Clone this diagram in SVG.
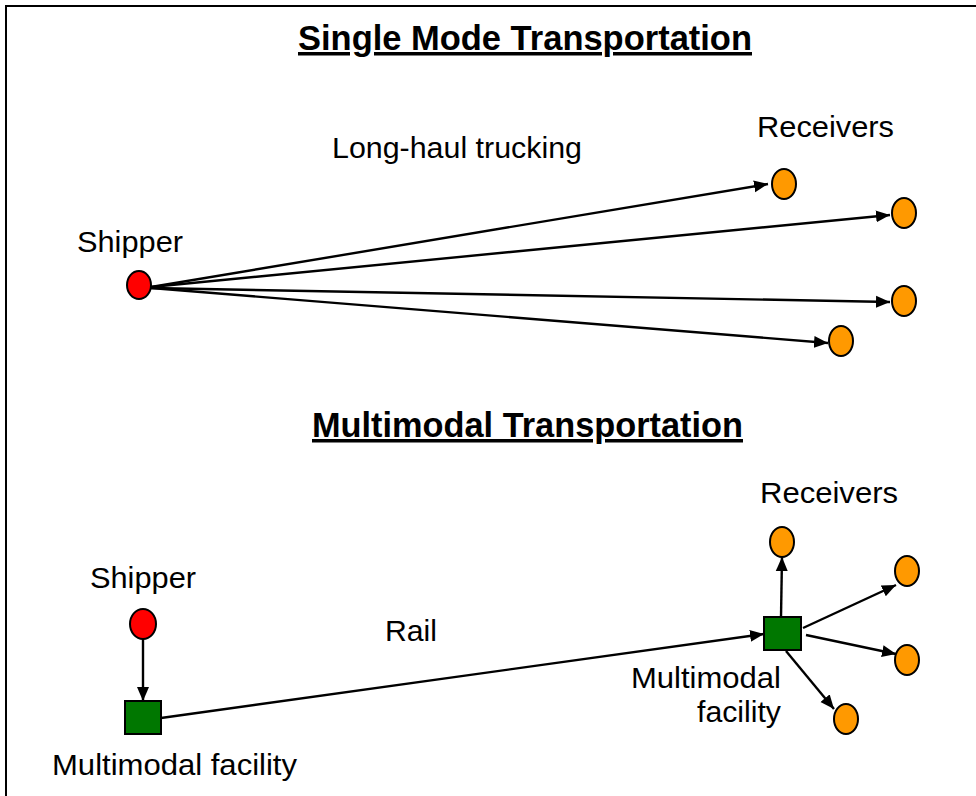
<svg xmlns="http://www.w3.org/2000/svg" width="976" height="796" viewBox="0 0 976 796">
<style>
.t{font-family:"Liberation Sans",Arial,sans-serif;font-size:30px;fill:#000}
.h{font-family:"Liberation Sans",Arial,sans-serif;font-size:35px;font-weight:bold;fill:#000;text-decoration:underline}
.ship{fill:#ff0000;stroke:#000;stroke-width:2}
.rec{fill:#ff9900;stroke:#000;stroke-width:2}
.fac{fill:#007700;stroke:#000;stroke-width:2}
.c{stroke:#000;stroke-width:2.4;fill:none;marker-end:url(#ah)}
</style>
<defs>
<marker id="ah" markerUnits="userSpaceOnUse" markerWidth="16" markerHeight="13" refX="14" refY="6" orient="auto" viewBox="0 0 16 12">
<path d="M0,0 L14,6 L0,12 z" fill="#000"/>
</marker>
</defs>
<rect width="976" height="796" fill="#fff"/>
<g id="frame" stroke="#000" stroke-width="2">
<line x1="6" y1="5" x2="6" y2="796"/>
<line x1="5" y1="6" x2="976" y2="6"/>
</g>
<g id="titles">
<text class="h" x="298" y="50" textLength="454" lengthAdjust="spacingAndGlyphs">Single Mode Transportation</text>
<text class="h" x="312" y="437" textLength="431" lengthAdjust="spacingAndGlyphs">Multimodal Transportation</text>
<text class="t" x="332" y="158" textLength="250" lengthAdjust="spacingAndGlyphs">Long-haul trucking</text>
<text class="t" x="385" y="641" textLength="52" lengthAdjust="spacingAndGlyphs">Rail</text>
</g>
<g id="connectors">
<line class="c" x1="151" y1="287" x2="768" y2="184"/>
<line class="c" x1="151" y1="287" x2="890" y2="215"/>
<line class="c" x1="151" y1="288" x2="890" y2="302"/>
<line class="c" x1="151" y1="288" x2="828" y2="343"/>
<line class="c" x1="143" y1="639" x2="143" y2="701"/>
<line class="c" x1="161" y1="718" x2="764" y2="634"/>
<line class="c" x1="781" y1="617" x2="782" y2="557"/>
<line class="c" x1="803" y1="628" x2="896" y2="585"/>
<line class="c" x1="806" y1="635" x2="896" y2="654"/>
<line class="c" x1="786" y1="651" x2="834" y2="709"/>
</g>
<g id="shipper1">
<ellipse class="ship" cx="139" cy="285" rx="12" ry="14"/>
<text class="t" x="77" y="252" textLength="106" lengthAdjust="spacingAndGlyphs">Shipper</text>
</g>
<g id="receivers1-label"><text class="t" x="757" y="137" textLength="137" lengthAdjust="spacingAndGlyphs">Receivers</text></g>
<g id="r1"><ellipse class="rec" cx="784" cy="184" rx="12" ry="15"/></g>
<g id="r2"><ellipse class="rec" cx="904" cy="213" rx="12" ry="15"/></g>
<g id="r3"><ellipse class="rec" cx="904" cy="301" rx="12" ry="15"/></g>
<g id="r4"><ellipse class="rec" cx="841" cy="341" rx="12" ry="15"/></g>
<g id="shipper2">
<ellipse class="ship" cx="143" cy="624" rx="13" ry="15"/>
<text class="t" x="90" y="588" textLength="106" lengthAdjust="spacingAndGlyphs">Shipper</text>
</g>
<g id="facility1">
<rect class="fac" x="125" y="701" width="36" height="33"/>
<text class="t" x="52" y="775" textLength="245" lengthAdjust="spacingAndGlyphs">Multimodal facility</text>
</g>
<g id="facility2">
<rect class="fac" x="764" y="617" width="37" height="33"/>
<text class="t" x="631" y="688" textLength="150" lengthAdjust="spacingAndGlyphs">Multimodal</text>
<text class="t" x="697" y="722" textLength="84" lengthAdjust="spacingAndGlyphs">facility</text>
</g>
<g id="receivers2-label"><text class="t" x="760" y="503" textLength="138" lengthAdjust="spacingAndGlyphs">Receivers</text></g>
<g id="r5"><ellipse class="rec" cx="782" cy="542" rx="12" ry="15"/></g>
<g id="r6"><ellipse class="rec" cx="907" cy="571" rx="12" ry="15"/></g>
<g id="r7"><ellipse class="rec" cx="907" cy="660" rx="12" ry="15"/></g>
<g id="r8"><ellipse class="rec" cx="846" cy="719" rx="12" ry="15"/></g>
</svg>
